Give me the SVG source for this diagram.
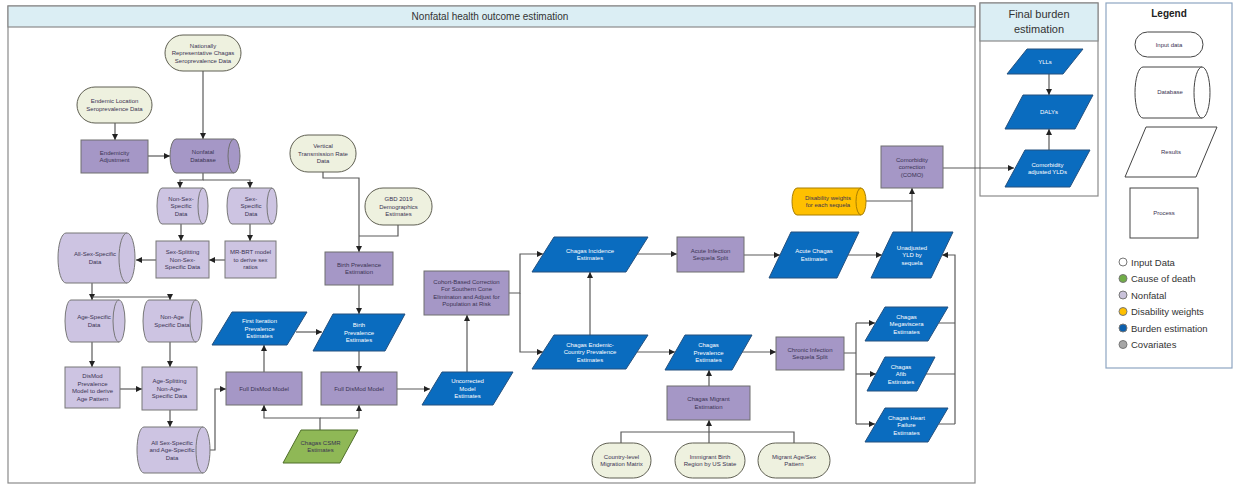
<svg xmlns="http://www.w3.org/2000/svg" width="1236" height="487" viewBox="0 0 1236 487">
<defs>
<marker id="ah" markerUnits="userSpaceOnUse" markerWidth="6" markerHeight="6" refX="6" refY="3" orient="auto"><path d="M0,0 L6,3 L0,6 z" fill="#222"/></marker>
<style>
.frame{fill:#fff;stroke:#8a8a8a;stroke-width:1.2}
.hdr{fill:#dbeef4;stroke:#8a8a8a;stroke-width:1.2}
.c{fill:none;stroke:#5a5a5a;stroke-width:1.2}
.a{marker-end:url(#ah)}
.inp{fill:#eef1df;stroke:#5f5f52;stroke-width:1}
.pd{fill:#a597c6;stroke:#6f6f6f;stroke-width:1}
.pl{fill:#cdc4e2;stroke:#777;stroke-width:1}
.res{fill:#0a6cbf;stroke:#24507e;stroke-width:1}
.grn{fill:#8fb856;stroke:#4f6e2a;stroke-width:1}
.org{fill:#ffc000;stroke:#a87e00;stroke-width:1}
.lg{fill:#fff;stroke:#444;stroke-width:1}
text{font-family:"Liberation Sans",Arial,sans-serif}
.t{font-size:6px;fill:#3a3352;text-anchor:middle}
.w{fill:#fff}
.lt{font-size:9.5px;fill:#333}
</style>
</defs>

<g id="frames">
<rect class="frame" x="8" y="6" width="967" height="477"/>
<rect class="hdr" x="8" y="6" width="967" height="21"/>
<text x="490" y="20" font-size="10" fill="#333" text-anchor="middle">Nonfatal health outcome estimation</text>
<rect class="frame" x="980" y="3" width="118" height="193"/>
<rect class="hdr" x="980" y="3" width="118" height="38"/>
<text x="1039" y="18" font-size="11" fill="#333" text-anchor="middle">Final burden</text>
<text x="1039" y="33" font-size="11" fill="#333" text-anchor="middle">estimation</text>
</g>

<g id="connectors">
<path class="c a" d="M203 71 V139"/>
<path class="c a" d="M115 123 V140"/>
<path class="c a" d="M148 156 H170"/>
<path class="c a" d="M203 173 V180 H180 V188"/>
<path class="c a" d="M203 180 H250 V188"/>
<path class="c a" d="M181 224 V241"/>
<path class="c a" d="M250 224 V241"/>
<path class="c a" d="M225 260 H209"/>
<path class="c a" d="M156 260 H136"/>
<path class="c a" d="M92 283 V300"/>
<path class="c a" d="M92 297 H170 V300"/>
<path class="c a" d="M92 342 V367"/>
<path class="c a" d="M170 342 V367"/>
<path class="c a" d="M120 389 H142"/>
<path class="c a" d="M170 410 V427"/>
<path class="c a" d="M210 450 H215 V389 H226"/>
<path class="c a" d="M264 372 V345"/>
<path class="c a" d="M296 332 H322"/>
<path class="c a" d="M359 285 V314"/>
<path class="c a" d="M359 351 V372"/>
<path class="c a" d="M320 430 V418 H264 V405"/>
<path class="c a" d="M320 418 H359 V405"/>
<path class="c a" d="M323 172 V178 H359 V252"/>
<path class="c" d="M398 225 V236 H359"/>
<path class="c a" d="M397 389 H430"/>
<path class="c a" d="M467 372 V315"/>
<path class="c a" d="M509 293 H520 V254 H543"/>
<path class="c a" d="M520 293 V352 H543"/>
<path class="c a" d="M590 335 V272"/>
<path class="c a" d="M637 254 H677"/>
<path class="c a" d="M637 352 H675"/>
<path class="c a" d="M709 386 V370"/>
<path class="c" d="M621 443 V432 H794 V443"/>
<path class="c a" d="M709 443 V420"/>
<path class="c a" d="M742 352 H776"/>
<path class="c a" d="M744 255 H780"/>
<path class="c a" d="M848 255 H882"/>
<path class="c a" d="M912 232 V188"/>
<path class="c" d="M866 201 H912"/>
<path class="c" d="M844 353 H856 M856 323 V424"/>
<path class="c a" d="M856 323 H875"/>
<path class="c a" d="M856 374 H876"/>
<path class="c a" d="M856 424 H875"/>
<path class="c" d="M939 323 H955 M926 374 H955 M939 424 H955"/>
<path class="c a" d="M955 424 V255 H942"/>
<path class="c a" d="M943 168 H1014"/>
<path class="c a" d="M1049 74 V95"/>
<path class="c a" d="M1049 150 V129"/>
</g>

<g id="n-nat"><rect class="inp" x="165" y="35" width="76" height="36" rx="18"/>
<text class="t"><tspan x="203" y="47.5">Nationally</tspan><tspan x="203" y="55">Representative Chagas</tspan><tspan x="203" y="62.5">Seroprevalence Data</tspan></text></g>

<g id="n-endloc"><rect class="inp" x="77" y="87" width="75" height="36" rx="18"/>
<text class="t"><tspan x="114.5" y="103.3">Endemic Location</tspan><tspan x="114.5" y="110.8">Seroprevalence Data</tspan></text></g>

<g id="n-endadj"><rect class="pd" x="81" y="140" width="67" height="33"/>
<text class="t"><tspan x="114.5" y="154.8">Endemicity</tspan><tspan x="114.5" y="162.3">Adjustment</tspan></text></g>

<g id="n-nfdb"><path class="pd" d="M176 139 H234 A6 17 0 0 1 234 173 H176 A6 17 0 0 1 176 139 Z"/><path class="pd" fill="none" d="M234 139 A6 17 0 0 0 234 173"/>
<text class="t"><tspan x="203" y="154.3">Nonfatal</tspan><tspan x="203" y="161.8">Database</tspan></text></g>

<g id="n-nonsex"><path class="pl" d="M162 188 H203 A5 18 0 0 1 203 224 H162 A5 18 0 0 1 162 188 Z"/><path class="pl" fill="none" d="M203 188 A5 18 0 0 0 203 224"/>
<text class="t"><tspan x="181" y="200.5">Non-Sex-</tspan><tspan x="181" y="208">Specific</tspan><tspan x="181" y="215.5">Data</tspan></text></g>

<g id="n-sex"><path class="pl" d="M232 188 H272 A5 18 0 0 1 272 224 H232 A5 18 0 0 1 232 188 Z"/><path class="pl" fill="none" d="M272 188 A5 18 0 0 0 272 224"/>
<text class="t"><tspan x="251" y="200.5">Sex-</tspan><tspan x="251" y="208">Specific</tspan><tspan x="251" y="215.5">Data</tspan></text></g>

<g id="n-sexsplit"><rect class="pl" x="156" y="241" width="53" height="37"/>
<text class="t"><tspan x="182.5" y="254">Sex-Splitting</tspan><tspan x="182.5" y="261.5">Non-Sex-</tspan><tspan x="182.5" y="269">Specific Data</tspan></text></g>

<g id="n-mrbrt"><rect class="pl" x="225" y="241" width="51" height="37"/>
<text class="t"><tspan x="250.5" y="254">MR-BRT model</tspan><tspan x="250.5" y="261.5">to derive sex</tspan><tspan x="250.5" y="269">ratios</tspan></text></g>

<g id="n-allsex"><path class="pl" d="M66 233 H127 A8 25 0 0 1 127 283 H66 A8 25 0 0 1 66 233 Z"/><path class="pl" fill="none" d="M127 233 A8 25 0 0 0 127 283"/>
<text class="t"><tspan x="95" y="256">All-Sex-Specific</tspan><tspan x="95" y="263.5">Data</tspan></text></g>

<g id="n-agespec"><path class="pl" d="M71 300 H119 A6 21 0 0 1 119 342 H71 A6 21 0 0 1 71 300 Z"/><path class="pl" fill="none" d="M119 300 A6 21 0 0 0 119 342"/>
<text class="t"><tspan x="94" y="319.3">Age-Specific</tspan><tspan x="94" y="326.8">Data</tspan></text></g>

<g id="n-nonage"><path class="pl" d="M149 300 H196 A6 21 0 0 1 196 342 H149 A6 21 0 0 1 149 300 Z"/><path class="pl" fill="none" d="M196 300 A6 21 0 0 0 196 342"/>
<text class="t"><tspan x="172" y="319.3">Non-Age</tspan><tspan x="172" y="326.8">Specific Data</tspan></text></g>

<g id="n-dismodprev"><rect class="pl" x="65" y="367" width="55" height="41"/>
<text class="t"><tspan x="92.5" y="378.3">DisMod</tspan><tspan x="92.5" y="385.8">Prevalence</tspan><tspan x="92.5" y="393.3">Model to derive</tspan><tspan x="92.5" y="400.8">Age Pattern</tspan></text></g>

<g id="n-agesplit"><rect class="pl" x="142" y="367" width="55" height="43"/>
<text class="t"><tspan x="169.5" y="383">Age-Splitting</tspan><tspan x="169.5" y="390.5">Non-Age-</tspan><tspan x="169.5" y="398">Specific Data</tspan></text></g>

<g id="n-allsexage"><path class="pl" d="M144 427 H203 A7 23 0 0 1 203 473 H144 A7 23 0 0 1 144 427 Z"/><path class="pl" fill="none" d="M203 427 A7 23 0 0 0 203 473"/>
<text class="t"><tspan x="172" y="444.5">All Sex-Specific</tspan><tspan x="172" y="452">and Age-Specific</tspan><tspan x="172" y="459.5">Data</tspan></text></g>

<g id="n-fdm1"><rect class="pd" x="226" y="372" width="76" height="33"/>
<text class="t" x="264" y="390.5">Full DisMod Model</text></g>

<g id="n-fdm2"><rect class="pd" x="321" y="372" width="76" height="33"/>
<text class="t" x="359" y="390.5">Full DisMod Model</text></g>

<g id="n-firstiter"><polygon class="res" points="232,312 307,312 287,345 212,345"/>
<text class="t w"><tspan x="259.5" y="323">First Iteration</tspan><tspan x="259.5" y="330.5">Prevalence</tspan><tspan x="259.5" y="338">Estimates</tspan></text></g>

<g id="n-birthest"><polygon class="res" points="333,314 405,314 385,351 313,351"/>
<text class="t w"><tspan x="359" y="327">Birth</tspan><tspan x="359" y="334.5">Prevalence</tspan><tspan x="359" y="342">Estimates</tspan></text></g>

<g id="n-csmr"><polygon class="grn" points="301,430 358,430 340,463 283,463"/>
<text class="t" fill="#2e3a1a"><tspan x="320.5" y="444.8">Chagas CSMR</tspan><tspan x="320.5" y="452.3">Estimates</tspan></text></g>

<g id="n-birthestim"><rect class="pd" x="325" y="252" width="68" height="33"/>
<text class="t"><tspan x="359" y="266.8">Birth Prevalence</tspan><tspan x="359" y="274.3">Estimation</tspan></text></g>

<g id="n-vtr"><rect class="inp" x="290" y="135" width="66" height="37" rx="18"/>
<text class="t"><tspan x="323" y="148">Vertical</tspan><tspan x="323" y="155.5">Transmission Rate</tspan><tspan x="323" y="163">Data</tspan></text></g>

<g id="n-gbd"><rect class="inp" x="365" y="188" width="67" height="37" rx="18"/>
<text class="t"><tspan x="398.5" y="201">GBD 2019</tspan><tspan x="398.5" y="208.5">Demographics</tspan><tspan x="398.5" y="216">Estimates</tspan></text></g>

<g id="n-cohort"><rect class="pd" x="424" y="271" width="85" height="44"/>
<text class="t"><tspan x="466.5" y="283.8">Cohort-Based Correction</tspan><tspan x="466.5" y="291.3">For Southern Cone</tspan><tspan x="466.5" y="298.8">Eliminaton and Adjust for</tspan><tspan x="466.5" y="306.3">Population at Risk</tspan></text></g>

<g id="n-uncorr"><polygon class="res" points="442,372 513,372 493,405 422,405"/>
<text class="t w"><tspan x="467.5" y="383">Uncorrected</tspan><tspan x="467.5" y="390.5">Model</tspan><tspan x="467.5" y="398">Estimates</tspan></text></g>

<g id="n-incid"><polygon class="res" points="554,237 648,237 626,272 532,272"/>
<text class="t w"><tspan x="590" y="252.8">Chagas Incidence</tspan><tspan x="590" y="260.3">Estimates</tspan></text></g>

<g id="n-endprev"><polygon class="res" points="554,335 648,335 626,369 532,369"/>
<text class="t w"><tspan x="590" y="346.5">Chagas Endemic-</tspan><tspan x="590" y="354">Country Prevalence</tspan><tspan x="590" y="361.5">Estimates</tspan></text></g>

<g id="n-acutesplit"><rect class="pd" x="677" y="237" width="67" height="35"/>
<text class="t"><tspan x="710.5" y="252.8">Acute Infection</tspan><tspan x="710.5" y="260.3">Sequela Split</tspan></text></g>

<g id="n-chprev"><polygon class="res" points="685,335 752,335 732,370 665,370"/>
<text class="t w"><tspan x="708.5" y="347">Chagas</tspan><tspan x="708.5" y="354.5">Prevalence</tspan><tspan x="708.5" y="362">Estimates</tspan></text></g>

<g id="n-migest"><rect class="pd" x="667" y="386" width="83" height="34"/>
<text class="t"><tspan x="708.5" y="401.3">Chagas Migrant</tspan><tspan x="708.5" y="408.8">Estimation</tspan></text></g>

<g id="n-country"><rect class="inp" x="592" y="443" width="59" height="35" rx="17.5"/>
<text class="t"><tspan x="621.5" y="458.8">Country-level</tspan><tspan x="621.5" y="466.3">Migration Matrix</tspan></text></g>

<g id="n-immig"><rect class="inp" x="675" y="443" width="70" height="35" rx="17.5"/>
<text class="t"><tspan x="710" y="458.8">Immigrant Birth</tspan><tspan x="710" y="466.3">Region by US State</tspan></text></g>

<g id="n-migage"><rect class="inp" x="758" y="443" width="72" height="35" rx="17.5"/>
<text class="t"><tspan x="794" y="458.8">Migrant Age/Sex</tspan><tspan x="794" y="466.3">Pattern</tspan></text></g>

<g id="n-chronsplit"><rect class="pd" x="776" y="337" width="68" height="33"/>
<text class="t"><tspan x="810" y="351.8">Chronic Infection</tspan><tspan x="810" y="359.3">Sequela Split</tspan></text></g>

<g id="n-acuteest"><polygon class="res" points="791,232 859,232 837,278 769,278"/>
<text class="t w"><tspan x="814" y="253.3">Acute Chagas</tspan><tspan x="814" y="260.8">Estimates</tspan></text></g>

<g id="n-unadj"><polygon class="res" points="893,232 953,232 931,278 871,278"/>
<text class="t w"><tspan x="912" y="249.5">Unadjusted</tspan><tspan x="912" y="257">YLD by</tspan><tspan x="912" y="264.5">sequela</tspan></text></g>

<g id="n-como"><rect class="pd" x="881" y="146" width="62" height="42"/>
<text class="t"><tspan x="912" y="161.5">Comorbidity</tspan><tspan x="912" y="169">correction</tspan><tspan x="912" y="176.5">(COMO)</tspan></text></g>

<g id="n-dw"><path class="org" d="M797 188 H861 A5 13.5 0 0 1 861 215 H797 A5 13.5 0 0 1 797 188 Z"/><path class="org" fill="none" d="M861 188 A5 13.5 0 0 0 861 215"/>
<text class="t" fill="#3a2f00"><tspan x="828" y="199.8">Disability weights</tspan><tspan x="828" y="207.3">for each sequela</tspan></text></g>

<g id="n-mega"><polygon class="res" points="885,307 948,307 928,341 865,341"/>
<text class="t w"><tspan x="906.5" y="318.5">Chagas</tspan><tspan x="906.5" y="326">Megaviscera</tspan><tspan x="906.5" y="333.5">Estimates</tspan></text></g>

<g id="n-afib"><polygon class="res" points="885,357 935,357 917,391 867,391"/>
<text class="t w"><tspan x="901" y="368.5">Chagas</tspan><tspan x="901" y="376">Afib</tspan><tspan x="901" y="383.5">Estimates</tspan></text></g>

<g id="n-hf"><polygon class="res" points="885,408 948,408 928,442 865,442"/>
<text class="t w"><tspan x="906.5" y="419.5">Chagas Heart</tspan><tspan x="906.5" y="427">Failure</tspan><tspan x="906.5" y="434.5">Estimates</tspan></text></g>

<g id="n-ylls"><polygon class="res" points="1027,49 1083,49 1063,74 1007,74"/>
<text class="t w" x="1045" y="63.5">YLLs</text></g>

<g id="n-dalys"><polygon class="res" points="1023,95 1093,95 1075,129 1005,129"/>
<text class="t w" x="1049" y="114">DALYs</text></g>

<g id="n-comoadj"><polygon class="res" points="1025,150 1090,150 1070,187 1005,187"/>
<text class="t w"><tspan x="1047.5" y="166.8">Comorbidity</tspan><tspan x="1047.5" y="174.3">adjusted YLDs</tspan></text></g>

<g id="legend">
<rect x="1106" y="3" width="126" height="365" fill="#fff" stroke="#8ea6c2" stroke-width="1.2"/>
<text x="1169" y="17" font-size="10" font-weight="bold" fill="#222" text-anchor="middle">Legend</text>
<rect class="lg" x="1135" y="32" width="68" height="25" rx="12.5"/>
<text class="t" fill="#333" x="1169" y="46.5" font-size="5">Input data</text>
<path class="lg" d="M1143 67 H1202 A8 25.5 0 0 1 1202 118 H1143 A8 25.5 0 0 1 1143 67 Z"/>
<path class="lg" fill="none" d="M1202 67 A8 25.5 0 0 0 1202 118"/>
<text class="t" fill="#333" x="1170" y="94" font-size="5">Database</text>
<polygon class="lg" points="1146,127 1217,127 1196,177 1125,177"/>
<text class="t" fill="#333" x="1171" y="154" font-size="5">Results</text>
<rect class="lg" x="1130" y="188" width="68" height="50"/>
<text class="t" fill="#333" x="1164" y="215" font-size="5">Process</text>
<circle cx="1123" cy="262" r="4" fill="#fff" stroke="#777"/>
<text class="lt" x="1131" y="265.5">Input Data</text>
<circle cx="1123" cy="278.5" r="4" fill="#70ad47" stroke="#777"/>
<text class="lt" x="1131" y="282">Cause of death</text>
<circle cx="1123" cy="295" r="4" fill="#c9c2da" stroke="#777"/>
<text class="lt" x="1131" y="298.5">Nonfatal</text>
<circle cx="1123" cy="311.5" r="4" fill="#ffc000" stroke="#777"/>
<text class="lt" x="1131" y="315">Disability weights</text>
<circle cx="1123" cy="328" r="4" fill="#0b5fad" stroke="#777"/>
<text class="lt" x="1131" y="331.5">Burden estimation</text>
<circle cx="1123" cy="344.5" r="4" fill="#a6a6a6" stroke="#777"/>
<text class="lt" x="1131" y="348">Covariates</text>
</g>
</svg>
